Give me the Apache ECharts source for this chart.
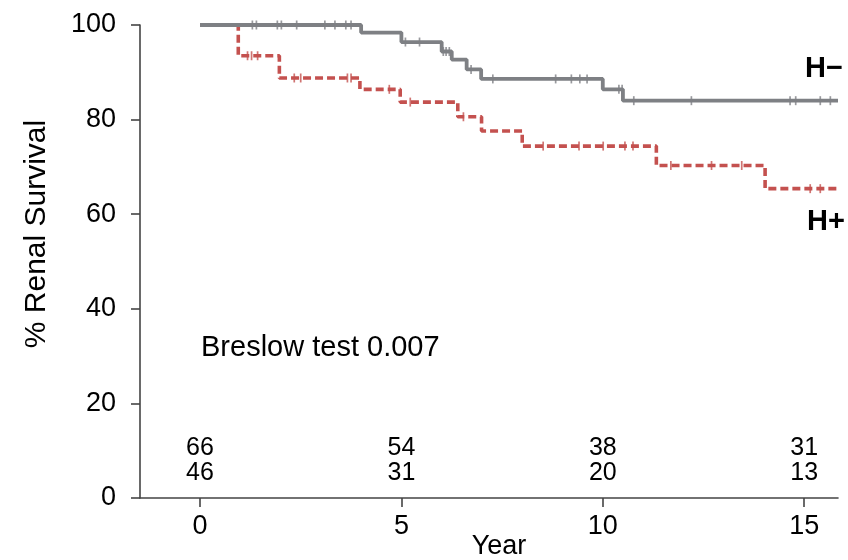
<!DOCTYPE html>
<html><head><meta charset="utf-8">
<script src="https://cdn.jsdelivr.net/npm/echarts@6/dist/echarts.min.js"></script>
<style>html,body{margin:0;padding:0;background:#fff}#c{width:848px;height:560px}</style>
</head><body><div id="c"></div>
<script>
// H− group (solid grey): event times and survival levels (%)
const hMinusTimes = [0, 4.0, 5.0, 6.0, 6.25, 6.62, 6.98, 10.0, 10.5];
const hMinusSurv  = [100, 98.4, 96.4, 94.4, 92.7, 90.6, 88.6, 86.4, 84.0];
const hMinusCensor = [1.30, 1.40, 1.92, 2.02, 2.40, 3.10, 3.35, 3.62, 3.75, 5.10, 5.45,
  6.04, 6.11, 6.19, 6.73, 7.27, 8.83, 9.22, 9.43, 9.61, 10.40, 10.48, 10.77, 12.20,
  14.65, 14.79, 15.40, 15.65];
// H+ group (dashed red)
const hPlusTimes = [0, 0.95, 1.97, 3.97, 4.97, 6.40, 6.99, 8.0, 11.33, 14.03];
const hPlusSurv  = [100, 93.5, 88.8, 86.4, 83.7, 80.6, 77.6, 74.4, 70.3, 65.4];
const hPlusCensor = [1.18, 1.28, 1.43, 2.34, 2.50, 3.66, 3.75, 4.70, 5.22, 6.54, 8.52,
  9.41, 10.01, 10.55, 10.75, 11.69, 12.70, 13.45, 15.15, 15.40];
// numbers at risk
const atRiskYears = [0, 5, 10, 15];
const atRiskHMinus = [66, 54, 38, 31];
const atRiskHPlus = [46, 31, 20, 13];
const xTicks = [0, 5, 10, 15];
const lastYear = 15.84;

const FONT = 'Liberation Sans, Arial, sans-serif';
const GREY = '#7e8084';
const RED = '#c4514f';

function stepData(times, surv) {
  const d = times.map((t, i) => [t, surv[i]]);
  d.push([lastYear, surv[surv.length - 1]]);
  return d;
}
function levelAt(times, surv, t) {
  let v = surv[0];
  for (let i = 0; i < times.length; i++) if (times[i] <= t) v = surv[i];
  return v;
}
function censorData(times, surv, cens) {
  return cens.map(t => [t, levelAt(times, surv, t)]);
}

const chart = echarts.init(document.getElementById('c'), null, {renderer: 'canvas'});
chart.setOption({
  animation: false,
  backgroundColor: '#fff',
  grid: {left: 140, right: 10, top: 25, bottom: 62, outerBoundsMode: 'none', containLabel: false},
  xAxis: {
    type: 'value', min: -1.49, max: lastYear,
    axisLine: {show: true, onZero: false, lineStyle: {color: '#444', width: 1.6}},
    axisTick: {show: true, customValues: xTicks, length: 9, lineStyle: {color: '#444', width: 1.6}},
    axisLabel: {customValues: xTicks, fontSize: 27, color: '#000', fontFamily: FONT, margin: 15},
    splitLine: {show: false}
  },
  yAxis: {
    type: 'value', min: 0, max: 100, interval: 20,
    axisLine: {show: true, onZero: false, lineStyle: {color: '#444', width: 1.6}},
    axisTick: {show: true, length: 9, lineStyle: {color: '#444', width: 1.6}},
    axisLabel: {fontSize: 27, color: '#000', fontFamily: FONT, margin: 24},
    splitLine: {show: false}
  },
  series: [
    {
      type: 'line', step: 'end', data: stepData(hPlusTimes, hPlusSurv),
      showSymbol: false, symbol: 'none', z: 2,
      lineStyle: {color: RED, width: 3.6, type: [8, 4]}
    },
    {
      type: 'scatter', data: censorData(hPlusTimes, hPlusSurv, hPlusCensor),
      symbol: 'rect', symbolSize: [1.7, 9], itemStyle: {color: RED}, z: 3
    },
    {
      type: 'line', step: 'end', data: stepData(hMinusTimes, hMinusSurv),
      showSymbol: false, symbol: 'none', z: 4,
      lineStyle: {color: GREY, width: 3.8}
    },
    {
      type: 'scatter', data: censorData(hMinusTimes, hMinusSurv, hMinusCensor),
      symbol: 'rect', symbolSize: [1.7, 9], itemStyle: {color: GREY}, z: 5
    }
  ]
});

// numbers-at-risk rows and annotations, placed through the chart's own scales
const texts = [];
atRiskYears.forEach((t, i) => {
  const p1 = chart.convertToPixel({gridIndex: 0}, [t, 10.6]);
  const p2 = chart.convertToPixel({gridIndex: 0}, [t, 5.3]);
  texts.push({type: 'text', x: p1[0], y: p1[1], style: {text: String(atRiskHMinus[i]),
    font: '25px ' + FONT, fill: '#000', align: 'center', verticalAlign: 'middle'}});
  texts.push({type: 'text', x: p2[0], y: p2[1], style: {text: String(atRiskHPlus[i]),
    font: '25px ' + FONT, fill: '#000', align: 'center', verticalAlign: 'middle'}});
});
texts.push({type: 'text', x: 37, y: 234, rotation: Math.PI / 2,
  style: {text: '% Renal Survival', font: '30px ' + FONT, fill: '#000', align: 'center', verticalAlign: 'middle'}});
texts.push({type: 'text', x: 499, y: 547,
  style: {text: 'Year', font: '27px ' + FONT, fill: '#000', align: 'center', verticalAlign: 'middle'}});
texts.push({type: 'text', left: 805, top: 54, style: {text: 'H\u2212', font: 'bold 29px ' + FONT, fill: '#000'}});
texts.push({type: 'text', left: 807, top: 207, style: {text: 'H+', font: 'bold 29px ' + FONT, fill: '#000'}});
texts.push({type: 'text', left: 201, top: 333, style: {text: 'Breslow test 0.007', font: '29px ' + FONT, fill: '#000'}});
chart.setOption({graphic: texts});
</script></body></html>
